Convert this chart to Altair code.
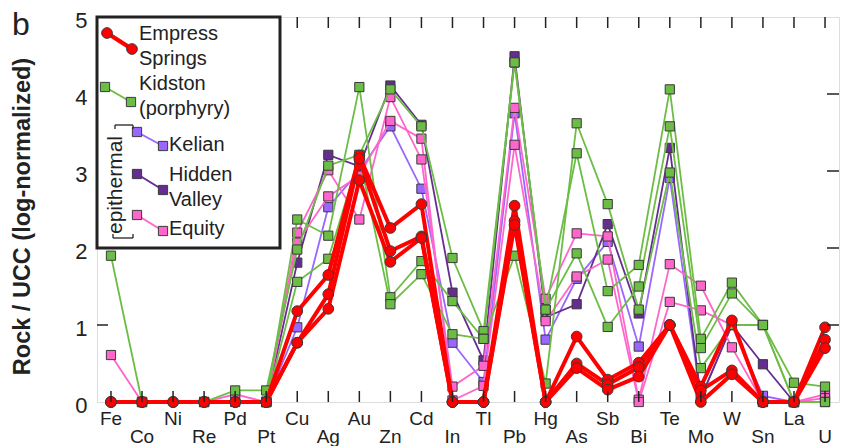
import altair as alt
import pandas as pd

N = None
elements = ["Fe", "Co", "Ni", "Re", "Pd", "Pt", "Cu", "Ag", "Au", "Zn", "Cd", "In",
            "Tl", "Pb", "Hg", "As", "Sb", "Bi", "Te", "Mo", "W", "Sn", "La", "U"]

# Empress Springs (3 samples)
es_1 = [0, 0, 0, 0, 0, 0, 1.18, 1.65, 3.20, 2.26, 2.57, 0, 0, 2.55, 0, 0.85, 0.29, 0.51, 1.00, 0.20, 1.06, 0, 0, 0.97]
es_2 = [0, 0, 0, 0, 0, 0, 0.77, 1.40, 3.16, 1.96, 2.15, 0, 0, 2.35, 0, 0.50, 0.23, 0.45, 1.00, 0.15, 0.41, 0, 0, 0.81]
es_3 = [0, 0, 0, 0, 0, 0, 0.77, 1.21, 2.88, 1.82, 2.13, 0, 0, 2.30, 0, 0.44, 0.16, 0.33, 1.00, 0.00, 0.36, 0, 0, 0.70]
# Kidston (porphyry)
kid_1 = [1.90, 0, N, 0, 0.15, 0.15, 1.98, 3.07, 3.21, 4.06, 3.58, 1.87, 0.92, 4.41, 1.20, 3.23, 1.44, 1.78, 4.06, 0.82, 1.55, 1.00, 0.25, 0.20]
kid_2 = [N, 0, N, 0, 0, 0, 2.37, 2.16, 4.09, 1.36, 1.83, 1.31, 0.82, 4.41, 1.20, 1.93, 0.975, 1.50, 3.58, 0.70, 1.41, 1.00, 0, 0]
kid_3 = [N, N, N, N, N, 0, 1.56, 1.86, 3.18, 1.27, 1.66, 0.88, 0.82, 1.90, 0.24, 3.62, 2.57, 1.20, 2.98, 0.44, 1.00, 1.00, 0, 0]
# Kelian
kel_1 = [N, N, N, N, N, 0, 0.97, 2.53, 3.00, 3.58, 2.77, 0.77, 0.26, 3.75, 0.81, 1.60, 2.08, 0.72, 2.91, 0.05, 1.00, 0.08, 0, N]
# Hidden Valley
hv_1 = [N, N, N, N, N, 0, 1.81, 3.21, 3.06, 4.11, 3.60, 1.42, 0.54, 4.49, 1.10, 1.27, 2.31, 1.15, 3.30, 0.05, 1.00, 0.49, 0, N]
# Equity
eq_1 = [0.61, 0, N, 0, 0.10, 0, 2.20, 3.01, 2.37, 3.96, 3.15, 0.20, 0.47, 3.82, 1.34, 2.19, 2.15, 0.03, 1.79, 1.51, 0.71, 0, 0, 0.10]
eq_2 = [N, N, N, N, N, 0, 2.07, 2.67, 2.94, 3.65, 3.42, 0.02, 0.21, 3.34, 1.05, 1.63, 1.85, 0.00, 1.30, 1.19, 1.00, 0, 0, 0.05]

series_names = ["Kelian", "Hidden Valley", "Equity", "Kidston (porphyry)", "Empress Springs"]
series_samples = {
    "Kelian": [kel_1],
    "Hidden Valley": [hv_1],
    "Equity": [eq_1, eq_2],
    "Kidston (porphyry)": [kid_1, kid_2, kid_3],
    "Empress Springs": [es_1, es_2, es_3],
}
legend_lines_text = {
    "Empress Springs": ["Empress", "Springs"],
    "Kidston (porphyry)": ["Kidston", "(porphyry)"],
    "Kelian": ["Kelian"],
    "Hidden Valley": ["Hidden", "Valley"],
    "Equity": ["Equity"],
}

# ---- styles ----
colors = {"Empress Springs": "#FF0000", "Kidston (porphyry)": "#6CBD45",
          "Kelian": "#9966FF", "Hidden Valley": "#662D91", "Equity": "#FF66CC"}
shapes = {"Empress Springs": "circle", "Kidston (porphyry)": "square",
          "Kelian": "square", "Hidden Valley": "square", "Equity": "square"}
widths = {"Empress Springs": 4.0, "Kidston (porphyry)": 1.8, "Kelian": 1.8,
          "Hidden Valley": 1.8, "Equity": 1.8}
msize = {"Empress Springs": 115, "Kidston (porphyry)": 85, "Kelian": 85,
         "Hidden Valley": 85, "Equity": 85}
W, H = 742, 385
FONT = "Liberation Sans"
INK = "#222222"

rows = []
for s in series_names:
    for k, vals in enumerate(series_samples[s]):
        for i, (el, v) in enumerate(zip(elements, vals)):
            if v is not None:
                rows.append({"series": s, "sample": f"{s}-{k}", "element": el, "idx": i, "value": v})
df = pd.DataFrame(rows)

xs = alt.Scale(type="point", domain=elements, padding=0.45)
ys = alt.Scale(domain=[0, 5], nice=False, zero=False)
X = alt.X("element:N", scale=xs, axis=None)
Y = alt.Y("value:Q", scale=ys, axis=alt.Axis(
    values=[0, 1, 2, 3, 4, 5], format="d", ticks=False, domain=False, grid=False,
    labelFontSize=22, labelFont=FONT, labelColor=INK, labelPadding=10, labelOffset=3,
    title="Rock / UCC (log-normalized)", titleFont=FONT, titleFontSize=23.5,
    titleFontWeight="bold", titleColor=INK, titlePadding=40, titleY=199))

layers = []
for s in series_names:
    d = df[df.series == s]
    layers.append(alt.Chart(d).mark_line(color=colors[s], strokeWidth=widths[s]).encode(
        x=X, y=Y, detail="sample:N", order="idx:Q"))
    layers.append(alt.Chart(d).mark_point(shape=shapes[s], filled=True, fill=colors[s], stroke="#3a3a3a",
                                          strokeWidth=1, size=msize[s], opacity=1).encode(x=X, y=Y))

# inward ticks
el_df = pd.DataFrame({"element": elements, "idx": list(range(len(elements)))})
yt_df = pd.DataFrame({"value": [1, 2, 3, 4]})
tick_style = dict(color=INK, strokeWidth=1.5)
layers.append(alt.Chart(el_df).mark_rule(**tick_style).encode(x=X, y=alt.value(H), y2=alt.value(H - 11)))
layers.append(alt.Chart(el_df).mark_rule(**tick_style).encode(x=X, y=alt.value(0), y2=alt.value(11)))
layers.append(alt.Chart(yt_df).mark_rule(**tick_style).encode(y=alt.Y("value:Q", scale=ys), x=alt.value(0), x2=alt.value(11)))
layers.append(alt.Chart(yt_df).mark_rule(**tick_style).encode(y=alt.Y("value:Q", scale=ys), x=alt.value(W - 12), x2=alt.value(W)))

# staggered element labels
txt = dict(fontSize=19, font=FONT, color=INK, align="center", baseline="alphabetic")
layers.append(alt.Chart(el_df).transform_filter("datum.idx % 2 == 0").mark_text(**txt).encode(
    x=X, y=alt.value(H + 23), text="element:N"))
layers.append(alt.Chart(el_df).transform_filter("datum.idx % 2 == 1").mark_text(**txt).encode(
    x=X, y=alt.value(H + 41), text="element:N"))

# ---- legend box (layout in pixels) ----
legend_layout = {
    "Empress Springs": (10, 16, 35, 32, 43, 17),
    "Kidston (porphyry)": (8, 70, 34, 85, 43, 67),
    "Kelian": (40, 115, 66, 129, 73, 128),
    "Hidden Valley": (40, 157, 66, 173, 73, 158),
    "Equity": (40, 198, 66, 214, 73, 212),
}
layers.append(alt.Chart(pd.DataFrame({"a": [0]})).mark_rect(fill="white", stroke=INK, strokeWidth=3).encode(
    x=alt.value(0), x2=alt.value(183), y=alt.value(0), y2=alt.value(231)))
for s in ["Empress Springs", "Kidston (porphyry)", "Kelian", "Hidden Valley", "Equity"]:
    x1, y1, x2, y2, tx, ty = legend_layout[s]
    one = pd.DataFrame({"series": [s]})
    layers.append(alt.Chart(one).mark_rule(color=colors[s], strokeWidth=widths[s] * 1.1).encode(
        x=alt.value(x1), x2=alt.value(x2), y=alt.value(y1), y2=alt.value(y2)))
    for (px, py) in [(x1, y1), (x2, y2)]:
        layers.append(alt.Chart(one).mark_point(shape=shapes[s], filled=True, fill=colors[s], stroke="#3a3a3a",
                                                strokeWidth=1, size=msize[s], opacity=1).encode(
            x=alt.value(px), y=alt.value(py)))
    for j, line in enumerate(legend_lines_text[s]):
        layers.append(alt.Chart(pd.DataFrame({"t": [line]})).mark_text(
            fontSize=20, font=FONT, color=INK, align="left", baseline="middle").encode(
            x=alt.value(tx - 1), y=alt.value(ty + 25 * j), text="t:N"))

# epithermal bracket
br = pd.DataFrame({"a": [0]})
br_style = dict(color=INK, strokeWidth=1.3)
for (a, b, c, d) in [(18, 108, 36, 108), (18, 108, 18, 112), (36, 108, 36, 112),
                     (16, 221, 36, 221), (16, 221, 16, 217), (36, 221, 36, 217)]:
    layers.append(alt.Chart(br).mark_rule(**br_style).encode(
        x=alt.value(a), y=alt.value(b), x2=alt.value(c), y2=alt.value(d)))
layers.append(alt.Chart(pd.DataFrame({"t": ["epithermal"]})).mark_text(
    fontSize=21, font=FONT, color=INK, align="center", baseline="alphabetic", angle=270).encode(
    x=alt.value(25), y=alt.value(168), text="t:N"))

# panel letter
layers.append(alt.Chart(pd.DataFrame({"t": ["b"]})).mark_text(
    fontSize=32, font=FONT, color=INK, align="left", baseline="alphabetic").encode(
    x=alt.value(-85), y=alt.value(18), text="t:N"))

chart = alt.layer(*layers).properties(
    width=W, height=H,
    autosize=alt.AutoSizeParams(type="none"),
    padding={"left": 97, "top": 17, "right": 4, "bottom": 44},
).configure_view(stroke=INK, strokeWidth=3).configure(font=FONT)

chart.save("out.html", embed_options={"renderer": "svg", "actions": False})
